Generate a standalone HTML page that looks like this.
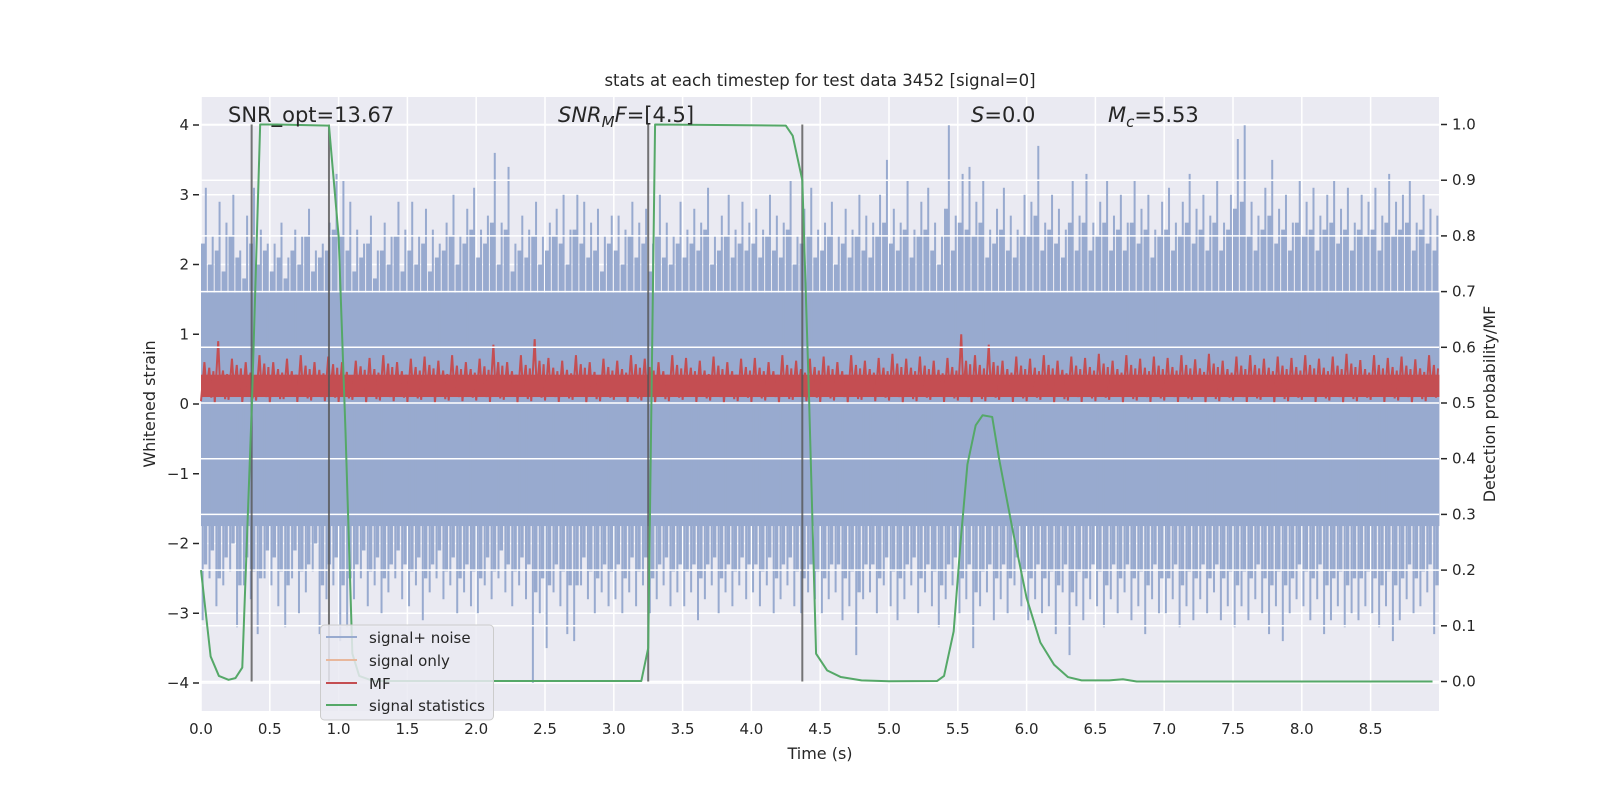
<!DOCTYPE html>
<html><head><meta charset="utf-8"><style>
html,body{margin:0;padding:0;background:#fff;}
svg{display:block;font-family:"DejaVu Sans","Liberation Sans",sans-serif;}
</style></head><body>
<svg id="chart" width="1600" height="800" viewBox="0 0 1600 800">
<rect x="0" y="0" width="1600" height="800" fill="#ffffff"/>
<rect x="201" y="97" width="1238" height="614" fill="#eaeaf2"/>
<g id="gridBack"></g>
<g id="noise"></g>
<g id="mf"></g>
<g id="gridFront"></g>
<g id="vlines"></g>
<g id="green"></g>
<g id="axes"></g>
<text x="820" y="86" text-anchor="middle" font-size="16.5" fill="#262626">stats at each timestep for test data 3452 [signal=0]</text>
<text x="228" y="122" font-size="21" fill="#262626">SNR_opt=13.67</text>
<text x="558" y="122" font-size="21" fill="#262626"><tspan font-style="italic">SNR</tspan><tspan font-style="italic" font-size="15" dy="5">M</tspan><tspan font-style="italic" dy="-5">F</tspan>=[4.5]</text>
<text x="971" y="122" font-size="21" fill="#262626"><tspan font-style="italic">S</tspan>=0.0</text>
<text x="1108" y="122" font-size="21" fill="#262626"><tspan font-style="italic">M</tspan><tspan font-style="italic" font-size="15" dy="5">c</tspan><tspan dy="-5">=5.53</tspan></text>
<text transform="translate(155,404) rotate(-90)" text-anchor="middle" font-size="16" fill="#262626">Whitened strain</text>
<text transform="translate(1495,404) rotate(-90)" text-anchor="middle" font-size="16" fill="#262626">Detection probability/MF</text>
<text x="820" y="759" text-anchor="middle" font-size="16" fill="#262626">Time (s)</text>
<g>
<rect x="320.5" y="625" width="173" height="95" rx="4" fill="#eaeaf2" fill-opacity="0.85" stroke="#cccccc"/>
<line x1="326" y1="637" x2="357" y2="637" stroke="#98aacf" stroke-width="2"/>
<text x="369" y="643" font-size="15" fill="#262626">signal+ noise</text>
<line x1="326" y1="660" x2="357" y2="660" stroke="#e8b79c" stroke-width="2"/>
<text x="369" y="666" font-size="15" fill="#262626">signal only</text>
<line x1="326" y1="683" x2="357" y2="683" stroke="#c44e52" stroke-width="2"/>
<text x="369" y="689" font-size="15" fill="#262626">MF</text>
<line x1="326" y1="705" x2="357" y2="705" stroke="#55a868" stroke-width="2"/>
<text x="369" y="711" font-size="15" fill="#262626">signal statistics</text>
</g>
</svg>
<script>
const noiseUp = [3.1,2.4,2.9,2.6,3.0,2.2,2.7,3.1,2.5,2.3, 2.3,2.6,2.1,2.5,2.4,2.8,2.2,2.3,2.6,3.3,
3.2,2.9,2.5,2.3,2.7,2.2,2.6,2.4,2.9,2.5, 2.9,2.4,2.8,2.5,2.3,2.6,3.0,2.4,2.8,3.1,
2.5,2.7,3.6,2.6,3.4,2.3,2.7,2.5,2.9,2.4, 2.6,2.8,3.0,2.5,3.0,2.9,2.6,2.8,2.4,2.7,
2.7,2.5,2.9,2.6,2.8,2.3,3.0,2.6,2.4,2.9, 2.5,2.8,2.6,3.1,2.4,2.7,3.0,2.5,2.9,2.6,
2.8,2.5,3.0,2.7,2.6,3.2,2.4,2.8,3.1,2.5, 2.6,2.9,2.4,2.8,2.5,3.0,2.7,2.6,3.0,3.5,
2.8,2.6,3.2,2.5,2.9,3.1,2.6,2.4,4.0,2.7, 3.3,3.4,2.9,3.2,2.5,2.8,3.1,2.7,2.5,3.0,
2.9,3.7,2.6,3.0,2.8,2.5,3.2,2.7,3.3,2.6, 2.9,3.2,2.7,3.0,2.6,3.2,2.8,3.0,2.5,2.9,
3.1,2.6,2.9,3.3,2.8,3.0,2.7,3.2,2.6,3.0, 3.8,4.0,2.9,2.7,3.1,3.5,2.8,3.0,2.6,3.2,
2.9,3.1,2.7,3.0,3.2,2.8,3.1,2.6,3.0,2.9, 3.1,2.7,3.3,2.9,3.0,3.2,2.6,3.0,2.8,2.7];
const noiseMid = [2.3,2.0,2.2,1.9,2.4,2.1,1.8,2.3,2.0,2.2, 1.9,2.1,1.8,2.2,2.0,2.4,1.9,2.1,2.2,2.5,
2.4,2.2,1.9,2.1,2.3,1.8,2.2,2.0,2.4,1.9, 2.2,2.0,2.3,1.9,2.1,2.2,2.4,2.0,2.3,2.5,
2.1,2.3,2.6,2.0,2.5,1.9,2.2,2.1,2.4,2.0, 2.2,2.4,2.3,2.0,2.5,2.3,2.1,2.2,1.9,2.3,
2.2,2.0,2.4,2.1,2.3,1.9,2.4,2.1,2.0,2.3, 2.1,2.3,2.2,2.5,2.0,2.2,2.4,2.1,2.3,2.2,
2.3,2.1,2.4,2.2,2.1,2.5,2.0,2.3,2.4,2.1, 2.2,2.4,2.0,2.3,2.1,2.4,2.2,2.1,2.4,2.6,
2.3,2.2,2.5,2.1,2.4,2.5,2.2,2.0,2.8,2.2, 2.6,2.5,2.4,2.6,2.1,2.3,2.5,2.2,2.1,2.4,
2.4,2.7,2.2,2.5,2.3,2.1,2.6,2.2,2.6,2.2, 2.4,2.6,2.2,2.5,2.2,2.6,2.3,2.5,2.1,2.4,
2.5,2.2,2.4,2.6,2.3,2.5,2.2,2.6,2.2,2.5, 2.8,2.9,2.4,2.2,2.5,2.7,2.3,2.5,2.2,2.6,
2.4,2.5,2.2,2.5,2.6,2.3,2.5,2.2,2.5,2.4, 2.5,2.2,2.6,2.4,2.5,2.6,2.2,2.5,2.3,2.2];
const noiseDown = [-3.1,-2.5,-2.9,-2.6,-2.4,-3.2,-2.6,-2.8,-3.3,-2.5, -2.6,-2.9,-3.2,-2.5,-3.0,-2.7,-2.4,-3.3,-2.8,-2.6,
-3.4,-3.2,-2.8,-2.5,-2.9,-2.6,-3.0,-2.7,-2.5,-2.8, -2.9,-2.6,-3.1,-2.7,-2.5,-2.8,-2.6,-3.0,-2.7,-2.9,
-3.0,-2.6,-2.8,-2.5,-2.7,-2.9,-2.6,-2.8,-4.0,-3.0, -3.5,-2.7,-2.9,-3.3,-3.4,-2.6,-2.8,-3.0,-2.7,-2.9,
-2.8,-3.0,-2.7,-2.9,-2.6,-3.0,-2.8,-2.6,-2.9,-2.7, -2.9,-2.7,-3.1,-2.8,-2.6,-3.0,-2.7,-2.9,-2.6,-2.8,
-2.7,-2.9,-2.6,-3.0,-2.8,-2.6,-2.9,-3.0,-2.7,-2.8, -3.0,-2.8,-2.7,-3.1,-2.9,-3.6,-2.8,-2.7,-3.0,-2.6,
-2.9,-3.1,-2.8,-2.6,-3.0,-2.7,-2.9,-3.2,-2.8,-2.6, -3.0,-2.8,-3.5,-2.9,-2.7,-3.1,-2.8,-3.0,-2.6,-2.9,
-3.1,-2.8,-3.0,-2.9,-3.3,-2.7,-3.6,-2.9,-3.1,-2.8, -2.9,-3.2,-2.8,-3.0,-2.7,-3.1,-2.9,-3.3,-2.8,-3.0,
-3.0,-2.8,-3.2,-2.9,-3.1,-2.8,-3.0,-2.7,-3.1,-2.9, -3.2,-2.9,-3.1,-2.8,-3.0,-3.3,-2.9,-3.4,-3.0,-2.8,
-2.9,-3.1,-2.8,-3.3,-3.1,-2.9,-3.2,-3.0,-3.1,-2.9, -3.0,-3.2,-2.9,-3.4,-3.1,-2.8,-3.0,-2.9,-2.7,-3.3];
const noiseMidDown = [-2.3,-2.1,-2.5,-2.2,-2.0,-2.6,-2.2,-2.4,-2.5,-2.1, -2.2,-2.4,-2.6,-2.1,-2.4,-2.3,-2.0,-2.6,-2.3,-2.2,
-2.6,-2.5,-2.3,-2.1,-2.4,-2.2,-2.5,-2.3,-2.1,-2.3, -2.4,-2.2,-2.5,-2.3,-2.1,-2.4,-2.2,-2.5,-2.3,-2.4,
-2.5,-2.2,-2.4,-2.1,-2.3,-2.4,-2.2,-2.3,-2.7,-2.5, -2.6,-2.3,-2.4,-2.6,-2.6,-2.2,-2.4,-2.5,-2.3,-2.4,
-2.3,-2.5,-2.2,-2.4,-2.2,-2.5,-2.3,-2.2,-2.4,-2.3, -2.4,-2.3,-2.5,-2.3,-2.2,-2.5,-2.3,-2.4,-2.2,-2.3,
-2.3,-2.4,-2.2,-2.5,-2.3,-2.2,-2.4,-2.5,-2.3,-2.4, -2.5,-2.3,-2.3,-2.5,-2.4,-2.7,-2.3,-2.3,-2.5,-2.2,
-2.4,-2.5,-2.3,-2.2,-2.5,-2.3,-2.4,-2.6,-2.3,-2.2, -2.5,-2.3,-2.7,-2.4,-2.3,-2.5,-2.3,-2.5,-2.2,-2.4,
-2.5,-2.3,-2.5,-2.4,-2.6,-2.3,-2.7,-2.4,-2.5,-2.3, -2.4,-2.6,-2.3,-2.5,-2.3,-2.5,-2.4,-2.6,-2.3,-2.5,
-2.5,-2.3,-2.6,-2.4,-2.5,-2.3,-2.5,-2.3,-2.5,-2.4, -2.6,-2.4,-2.5,-2.3,-2.5,-2.6,-2.4,-2.6,-2.5,-2.3,
-2.4,-2.5,-2.3,-2.6,-2.5,-2.4,-2.6,-2.5,-2.5,-2.4, -2.5,-2.6,-2.4,-2.6,-2.5,-2.3,-2.5,-2.4,-2.3,-2.6];
const mfHi = [0.6,0.9,0.65,0.6,0.7,0.6,0.65,0.7,0.6,0.68, 0.6,0.62,0.66,0.7,0.6,0.65,0.68,0.62,0.7,0.6,
0.65,0.85,0.6,0.7,0.93,0.66,0.62,0.7,0.6,0.65, 0.62,0.7,0.65,0.6,0.7,0.66,0.62,0.68,0.6,0.65,
0.66,0.6,0.7,0.62,0.65,0.68,0.6,0.7,0.62,0.66, 0.72,0.65,0.68,0.62,0.66,1.0,0.7,0.85,0.62,0.68,
0.65,0.7,0.62,0.68,0.66,0.72,0.62,0.7,0.65,0.68, 0.66,0.7,0.64,0.72,0.62,0.68,0.7,0.65,0.68,0.66,
0.7,0.65,0.68,0.72,0.63,0.7,0.66,0.68,0.64,0.7];
const mfLo = [0.04,0.02,0.06,0.03,0.05,0.02,0.07,0.03,0.05,0.04, 0.03,0.06,0.02,0.05,0.04,0.03,0.06,0.02,0.05,0.04,
0.05,0.03,0.06,0.02,0.04,0.05,0.03,0.06,0.02,0.04, 0.06,0.03,0.05,0.02,0.04,0.06,0.03,0.05,0.02,0.04,
0.03,0.05,0.02,0.06,0.04,0.03,0.05,0.02,0.06,0.04, 0.05,0.02,0.04,0.06,0.03,0.05,0.02,0.04,0.06,0.03,
0.04,0.06,0.02,0.05,0.03,0.04,0.06,0.02,0.05,0.03, 0.05,0.03,0.06,0.02,0.04,0.05,0.03,0.06,0.02,0.04,
0.06,0.03,0.05,0.02,0.04,0.06,0.03,0.05,0.02,0.04];
const mfMid = [0.52,0.48,0.56,0.45,0.58,0.5,0.47,0.55,0.49,0.57, 0.46,0.54,0.5,0.58,0.47,0.53,0.56,0.48,0.55,0.5,
0.54,0.6,0.47,0.56,0.62,0.52,0.49,0.57,0.46,0.53, 0.5,0.57,0.53,0.47,0.56,0.52,0.48,0.55,0.47,0.53,
0.52,0.47,0.56,0.5,0.53,0.55,0.47,0.56,0.5,0.52, 0.58,0.52,0.55,0.49,0.53,0.62,0.56,0.6,0.5,0.55,
0.52,0.56,0.49,0.55,0.53,0.58,0.5,0.56,0.52,0.55, 0.53,0.56,0.51,0.58,0.5,0.55,0.56,0.52,0.55,0.53,
0.56,0.52,0.55,0.58,0.5,0.56,0.53,0.55,0.51,0.56];
const statT = [0,0.07,0.13,0.2,0.25,0.3,0.37,0.43,0.55,0.93,1.0,1.05,1.1,1.15,1.25,3.2,3.25,3.3,4.25,4.3,4.37,4.42,4.47,4.55,4.65,4.8,5.0,5.35,5.4,5.47,5.52,5.57,5.63,5.68,5.75,5.8,5.9,6.0,6.1,6.2,6.3,6.4,6.6,6.7,6.8,8.95];
const statP = [0.2,0.045,0.01,0.003,0.006,0.025,0.5,1.0,1.0,0.998,0.8,0.45,0.05,0.01,0.001,0.001,0.06,1.0,0.998,0.98,0.9,0.5,0.05,0.02,0.008,0.002,0.0005,0.001,0.01,0.09,0.25,0.39,0.46,0.478,0.475,0.4,0.27,0.15,0.07,0.03,0.008,0.002,0.002,0.004,0.0,0.0];
const markerT = [0.368,0.93,3.25,4.37];
const xTicks = ['0.0','0.5','1.0','1.5','2.0','2.5','3.0','3.5','4.0','4.5','5.0','5.5','6.0','6.5','7.0','7.5','8.0','8.5'];
const yLeftTicks = ['−4','−3','−2','−1','0','1','2','3','4'];
const yRightTicks = ['0.0','0.1','0.2','0.3','0.4','0.5','0.6','0.7','0.8','0.9','1.0'];

const NS='http://www.w3.org/2000/svg';
const X0=201, X1=1439, Y0=97, Y1=711;
const xs = t => 201 + t*137.6;
const yl = v => 404 - v*69.75;
const yr = p => 681.5 - p*557;
function mk(tag, attrs, parent){const e=document.createElementNS(NS,tag);for(const k in attrs)e.setAttribute(k,attrs[k]);parent.appendChild(e);return e;}
const gb=document.getElementById('gridBack'), gf=document.getElementById('gridFront');
const ax=document.getElementById('axes');

xTicks.forEach((lab,i)=>{
  const t=parseFloat(lab), x=xs(t);
  const l=mk('line',{x1:x,x2:x,y1:Y0,y2:Y1,stroke:'#fff','stroke-width':1.5},gb);
  
  
  const tx=mk('text',{x:x,y:734,'text-anchor':'middle','font-size':15,fill:'#262626'},ax);
  tx.textContent=lab;
  
  
});
yLeftTicks.forEach((lab,i)=>{
  const v=i-4, y=yl(v);
  const l=mk('line',{x1:X0,x2:X1,y1:y,y2:y,stroke:'#fff','stroke-width':1.5},gb);
  
  
  const tk=mk('line',{x1:X0-8,x2:X0-2,y1:y,y2:y,stroke:'#262626','stroke-width':1.5},ax);
  
  
  const tx=mk('text',{x:X0-12,y:y+5,'text-anchor':'end','font-size':15,fill:'#262626'},ax);
  tx.textContent=lab;
  
  
});
yRightTicks.forEach((lab,i)=>{
  const y=yr(parseFloat(lab));
  const l=mk('line',{x1:X0,x2:X1,y1:y,y2:y,stroke:'#fff','stroke-width':1.5},gf);
  
  
  const tk=mk('line',{x1:X1+2,x2:X1+8,y1:y,y2:y,stroke:'#262626','stroke-width':1.5},ax);
  
  
  const tx=mk('text',{x:X1+13,y:y+5,'font-size':15,fill:'#262626'},ax);
  tx.textContent=lab;
  
  
});

// noise
const ng=document.getElementById('noise');
const nc='#98aacf';
const tEnd=(noiseUp.length)*0.05;
const core=mk('rect',{x:X0,y:yl(1.6),width:xs(tEnd)-X0,height:yl(-1.75)-yl(1.6),fill:nc},ng);


noiseUp.forEach((v,i)=>{
  const t0=i*0.05;
  const a=mk('rect',{x:xs(t0),y:yl(noiseMid[i]),width:xs(0.03)-X0,height:yl(1.5)-yl(noiseMid[i]),fill:nc},ng);
  
  
  const b=mk('rect',{x:xs(t0+0.02),y:yl(-1.6),width:xs(0.025)-X0,height:yl(noiseMidDown[i])-yl(-1.6),fill:nc},ng);
  
  
  const x=xs(t0+0.035);
  const l=mk('line',{x1:x,x2:x,y1:yl(0),y2:yl(v),stroke:nc,'stroke-width':2},ng);
  
  
  const x2=xs(t0+0.012);
  const d=mk('line',{x1:x2,x2:x2,y1:yl(0),y2:yl(noiseDown[i]),stroke:nc,'stroke-width':2},ng);
  
  
});

// MF
const mg=document.getElementById('mf');
const mfc='#c44e52';
const mcore=mk('rect',{x:X0,y:yl(0.42),width:xs(mfHi.length*0.1)-X0,height:yl(0.1)-yl(0.42),fill:mfc},mg);


let pts=[];
mfHi.forEach((h,i)=>{
  const t=i*0.1;
  pts.push(xs(t)+','+yl(mfLo[i]));
  pts.push(xs(t+0.025)+','+yl(h));
  pts.push(xs(t+0.04)+','+yl(0.2));
  pts.push(xs(t+0.06)+','+yl(mfMid[i]));
  pts.push(xs(t+0.075)+','+yl(mfLo[i]+0.05));
  pts.push(xs(t+0.09)+','+yl(mfMid[i]-0.05));
});
const mp=mk('polyline',{points:pts.join(' '),fill:'none',stroke:mfc,'stroke-width':2},mg);



// markers
const vg=document.getElementById('vlines');
markerT.forEach(t=>{
  const l=mk('line',{x1:xs(t),x2:xs(t),y1:yr(1.0),y2:yr(0),stroke:'#555555','stroke-opacity':0.8,'stroke-width':2},vg);
  
  
});

// green
const gg=document.getElementById('green');
const gp=mk('polyline',{points:statT.map((t,i)=>xs(t)+','+yr(statP[i])).join(' '),fill:'none',stroke:'#55a868','stroke-width':2,'stroke-linejoin':'round'},gg);


</script>
</body></html>
